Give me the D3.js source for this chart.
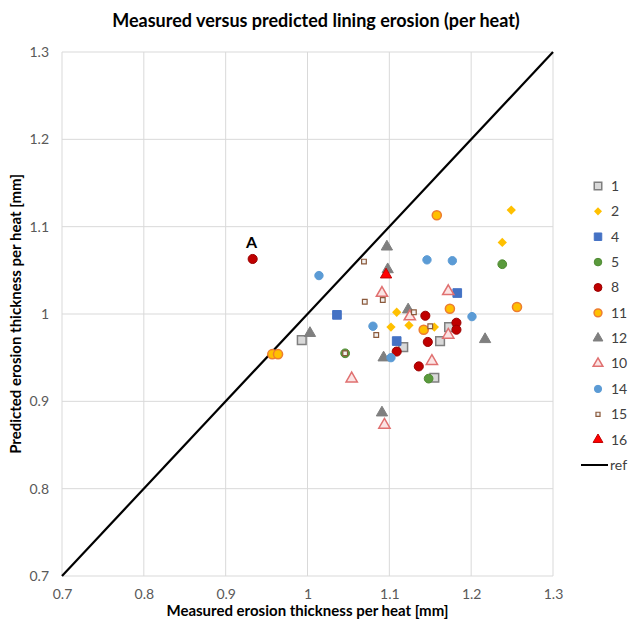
<!DOCTYPE html>
<html>
<head>
<meta charset="utf-8">
<script src="https://cdn.jsdelivr.net/npm/d3@7"></script>
<style>
  body { margin: 0; background: #fff; }
  text { font-family: Lato, "Open Sans", sans-serif; }
</style>
</head>
<body>
<svg width="635" height="628"></svg>
<script>
// data: [measured, predicted] per heat
var s1  = [[0.993, 0.970], [1.117, 0.962], [1.162, 0.969], [1.173, 0.985], [1.155, 0.927]];
var s2  = [[1.249, 1.119], [1.238, 1.082], [1.109, 1.002], [1.102, 0.985], [1.124, 0.987], [1.155, 0.985]];
var s4  = [[1.036, 0.999], [1.183, 1.024], [1.109, 0.969]];
var s5  = [[1.238, 1.057], [1.046, 0.955], [1.148, 0.926]];
var s8  = [[0.933, 1.063], [1.144, 0.998], [1.182, 0.990], [1.182, 0.982], [1.147, 0.968], [1.109, 0.957], [1.136, 0.940]];
var s11 = [[1.158, 1.113], [1.174, 1.006], [1.256, 1.008], [1.142, 0.982], [0.957, 0.954], [0.964, 0.954]];
var s12 = [[1.097, 1.077], [1.098, 1.051], [1.123, 1.005], [1.093, 0.950], [1.217, 0.971], [1.091, 0.887], [1.003, 0.978]];
var s10 = [[1.091, 1.024], [1.172, 1.026], [1.125, 0.997], [1.172, 0.976], [1.152, 0.946], [1.054, 0.926], [1.094, 0.873]];
var s14 = [[1.014, 1.044], [1.146, 1.062], [1.177, 1.061], [1.080, 0.986], [1.201, 0.997], [1.102, 0.950]];
var s15 = [[1.069, 1.060], [1.070, 1.014], [1.092, 1.016], [1.130, 1.002], [1.150, 0.986], [1.084, 0.976], [1.046, 0.955]];
var s16 = [[1.096, 1.045]];
var refLine = [[0.7, 0.7], [1.3, 1.3]];

var seriesNames = ["1", "2", "4", "5", "8", "11", "12", "10", "14", "15", "16"];
var seriesData  = [s1, s2, s4, s5, s8, s11, s12, s10, s14, s15, s16];
var ticks = [0.7, 0.8, 0.9, 1, 1.1, 1.2, 1.3];

// marker look for each series
var styles = {
  "1":  {shape: d3.symbolSquare,   size: 75, fill: "#d9d9d9", stroke: "#7f7f7f", sw: 1.5},
  "2":  {shape: d3.symbolDiamond2, size: 55, fill: "#ffc000", stroke: "none",    sw: 0},
  "4":  {shape: d3.symbolSquare,   size: 75, fill: "#4472c4", stroke: "#4472c4", sw: 1},
  "5":  {shape: d3.symbolCircle,   size: 60, fill: "#5a9a3c", stroke: "#4f8a32", sw: 1},
  "8":  {shape: d3.symbolCircle,   size: 65, fill: "#c00000", stroke: "#9a0000", sw: 1},
  "11": {shape: d3.symbolCircle,   size: 65, fill: "#ffc000", stroke: "#ed7d31", sw: 1.5},
  "12": {shape: d3.symbolTriangle, size: 55, fill: "#7f7f7f", stroke: "#7f7f7f", sw: 1},
  "10": {shape: d3.symbolTriangle, size: 55, fill: "#fbe4e4", stroke: "#e07070", sw: 1.5},
  "14": {shape: d3.symbolCircle,   size: 55, fill: "#5b9bd5", stroke: "#5b9bd5", sw: 1},
  "15": {shape: d3.symbolSquare,   size: 22, fill: "#f2f2f2", stroke: "#8b5a3c", sw: 1.2},
  "16": {shape: d3.symbolTriangle, size: 55, fill: "#ff0000", stroke: "#c00000", sw: 1}
};

var svg = d3.select("svg");
var margin = {left: 62, top: 52, right: 82, bottom: 52};
var width = 553 - margin.left,
    height = 576 - margin.top;

var x = d3.scaleLinear().domain([0.7, 1.3]).range([margin.left, margin.left + width]);
var y = d3.scaleLinear().domain([0.7, 1.3]).range([margin.top + height, margin.top]);

// grid
svg.append("g").selectAll("line.vx")
  .data(ticks).enter().append("line")
  .attr("x1", d => x(d)).attr("x2", d => x(d))
  .attr("y1", y(1.3)).attr("y2", y(0.7))
  .attr("stroke", "#d9d9d9").attr("stroke-width", 1);
svg.append("g").selectAll("line.hy")
  .data(ticks).enter().append("line")
  .attr("x1", x(0.7)).attr("x2", x(1.3))
  .attr("y1", d => y(d)).attr("y2", d => y(d))
  .attr("stroke", "#d9d9d9").attr("stroke-width", 1);

// axes (labels only, Excel style)
var fmt = d => d3.format("")(+d.toFixed(1));
var xAxis = svg.append("g")
  .attr("transform", "translate(0," + y(0.7) + ")")
  .call(d3.axisBottom(x).tickValues(ticks).tickSize(0).tickPadding(13).tickFormat(fmt));
var yAxis = svg.append("g")
  .attr("transform", "translate(" + x(0.7) + ",0)")
  .call(d3.axisLeft(y).tickValues(ticks).tickSize(0).tickPadding(13).tickFormat(fmt));
[xAxis, yAxis].forEach(function(a) {
  a.select(".domain").remove();
  a.selectAll("text").attr("fill", "#595959").style("font-size", "14px")
    .style("font-family", "Lato, 'Open Sans', sans-serif");
});

// reference line
var line = d3.line().x(d => x(d[0])).y(d => y(d[1]));
svg.append("path").datum(refLine)
  .attr("d", line).attr("fill", "none")
  .attr("stroke", "#000").attr("stroke-width", 2.2);

// points
seriesNames.forEach(function(name, i) {
  var st = styles[name];
  svg.append("g").selectAll("path")
    .data(seriesData[i]).enter().append("path")
    .attr("transform", d => "translate(" + x(d[0]) + "," + y(d[1]) + ")")
    .attr("d", d3.symbol().type(st.shape).size(st.size))
    .attr("fill", st.fill)
    .attr("stroke", st.stroke)
    .attr("stroke-width", st.sw);
});

// annotation on outlier
svg.append("text")
  .attr("x", x(s8[0][0]) - 1).attr("y", y(s8[0][1]) - 11)
  .attr("text-anchor", "middle")
  .style("font-size", "16px").style("font-weight", "bold")
  .text("A");

// legend
var legend = svg.append("g");
var legY = d3.scalePoint().domain(seriesNames.concat(["ref"])).range([186, 465]);
seriesNames.forEach(function(name) {
  var st = styles[name];
  var g = legend.append("g").attr("transform", "translate(598," + legY(name) + ")");
  g.append("path")
    .attr("d", d3.symbol().type(st.shape).size(st.size * 0.75))
    .attr("fill", st.fill).attr("stroke", st.stroke).attr("stroke-width", st.sw);
  g.append("text").attr("x", 13).attr("dy", "0.35em")
    .attr("fill", "#404040").style("font-size", "14px").text(name);
});
var gr = legend.append("g").attr("transform", "translate(598," + legY("ref") + ")");
gr.append("line").attr("x1", -17).attr("x2", 10).attr("stroke", "#000").attr("stroke-width", 2);
gr.append("text").attr("x", 12).attr("dy", "0.35em")
  .attr("fill", "#404040").style("font-size", "14px").text("ref");

// titles
svg.append("text")
  .attr("x", 316).attr("y", 27).attr("text-anchor", "middle")
  .attr("fill", "#000")
  .style("font-size", "18px").style("font-weight", "bold")
  .text("Measured versus predicted lining erosion (per heat)");
svg.append("text")
  .attr("x", x(1)).attr("y", 616).attr("text-anchor", "middle")
  .style("font-size", "15px").style("font-weight", "bold")
  .text("Measured erosion thickness per heat [mm]");
svg.append("text")
  .attr("transform", "translate(21," + y(1) + ") rotate(-90)")
  .attr("text-anchor", "middle")
  .style("font-size", "15px").style("font-weight", "bold")
  .text("Predicted erosion thickness per heat [mm]");
</script>
</body>
</html>
